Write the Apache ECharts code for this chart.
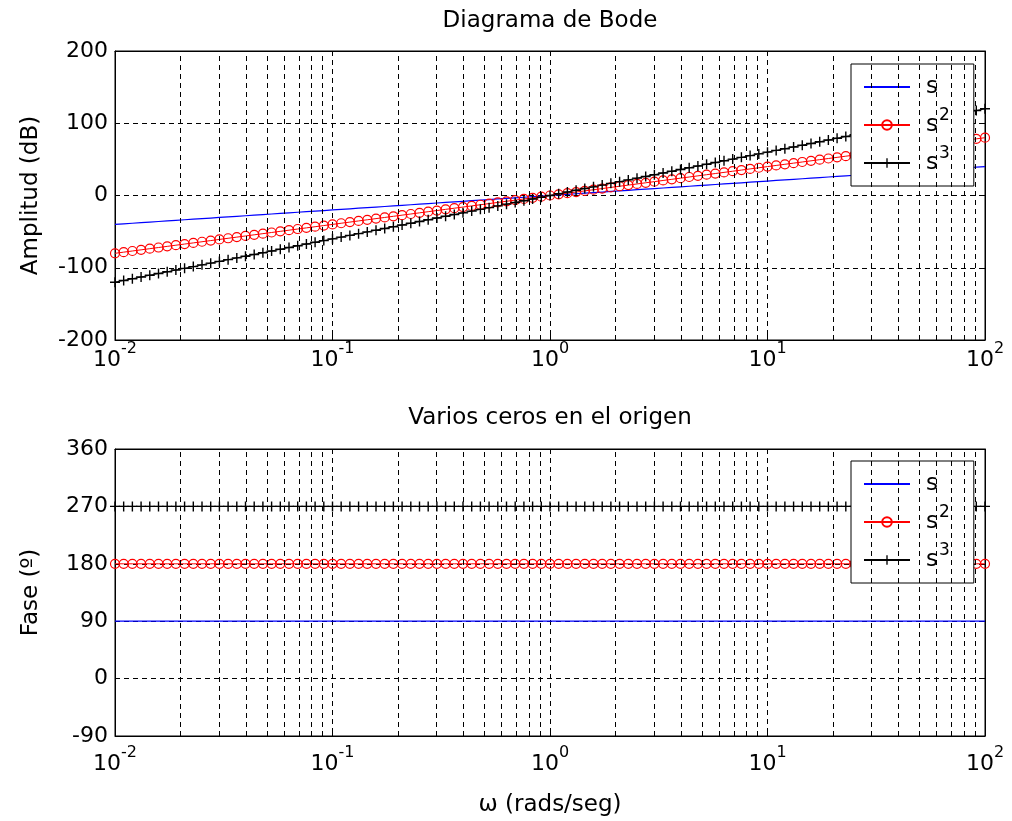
<!DOCTYPE html>
<html>
<head>
<meta charset="utf-8">
<title>Diagrama de Bode</title>
<script src="https://cdn.jsdelivr.net/npm/echarts@6/dist/echarts.min.js"></script>
<style>
  html, body { margin: 0; padding: 0; background: #fff; }
  #chart { width: 1012px; height: 821px; }
</style>
</head>
<body>
<div id="chart"></div>
<script>
// Frequency samples (rad/s), logarithmically spaced from 1e-2 to 1e2
const omega = [
  0.01, 0.01096, 0.01202, 0.01318, 0.01445, 0.01585, 0.01738, 0.01905, 0.02089, 0.02291,
  0.02512, 0.02754, 0.03020, 0.03311, 0.03631, 0.03981, 0.04365, 0.04786, 0.05248, 0.05754,
  0.06310, 0.06918, 0.07586, 0.08318, 0.09120,
  0.1, 0.1096, 0.1202, 0.1318, 0.1445, 0.1585, 0.1738, 0.1905, 0.2089, 0.2291,
  0.2512, 0.2754, 0.3020, 0.3311, 0.3631, 0.3981, 0.4365, 0.4786, 0.5248, 0.5754,
  0.6310, 0.6918, 0.7586, 0.8318, 0.9120,
  1, 1.096, 1.202, 1.318, 1.445, 1.585, 1.738, 1.905, 2.089, 2.291,
  2.512, 2.754, 3.020, 3.311, 3.631, 3.981, 4.365, 4.786, 5.248, 5.754,
  6.310, 6.918, 7.586, 8.318, 9.120,
  10, 10.96, 12.02, 13.18, 14.45, 15.85, 17.38, 19.05, 20.89, 22.91,
  25.12, 27.54, 30.20, 33.11, 36.31, 39.81, 43.65, 47.86, 52.48, 57.54,
  63.10, 69.18, 75.86, 83.18, 91.20,
  100
];

// Magnitude (dB) for s, s^2, s^3
const ampS = [
  -40, -39.2, -38.4, -37.6, -36.8, -36, -35.2, -34.4, -33.6, -32.8,
  -32, -31.2, -30.4, -29.6, -28.8, -28, -27.2, -26.4, -25.6, -24.8,
  -24, -23.2, -22.4, -21.6, -20.8, -20, -19.2, -18.4, -17.6, -16.8,
  -16, -15.2, -14.4, -13.6, -12.8, -12, -11.2, -10.4, -9.6, -8.8,
  -8, -7.2, -6.4, -5.6, -4.8, -4, -3.2, -2.4, -1.6, -0.8,
  0, 0.8, 1.6, 2.4, 3.2, 4, 4.8, 5.6, 6.4, 7.2,
  8, 8.8, 9.6, 10.4, 11.2, 12, 12.8, 13.6, 14.4, 15.2,
  16, 16.8, 17.6, 18.4, 19.2, 20, 20.8, 21.6, 22.4, 23.2,
  24, 24.8, 25.6, 26.4, 27.2, 28, 28.8, 29.6, 30.4, 31.2,
  32, 32.8, 33.6, 34.4, 35.2, 36, 36.8, 37.6, 38.4, 39.2,
  40
];
const ampS2 = [
  -80, -78.4, -76.8, -75.2, -73.6, -72, -70.4, -68.8, -67.2, -65.6,
  -64, -62.4, -60.8, -59.2, -57.6, -56, -54.4, -52.8, -51.2, -49.6,
  -48, -46.4, -44.8, -43.2, -41.6, -40, -38.4, -36.8, -35.2, -33.6,
  -32, -30.4, -28.8, -27.2, -25.6, -24, -22.4, -20.8, -19.2, -17.6,
  -16, -14.4, -12.8, -11.2, -9.6, -8, -6.4, -4.8, -3.2, -1.6,
  0, 1.6, 3.2, 4.8, 6.4, 8, 9.6, 11.2, 12.8, 14.4,
  16, 17.6, 19.2, 20.8, 22.4, 24, 25.6, 27.2, 28.8, 30.4,
  32, 33.6, 35.2, 36.8, 38.4, 40, 41.6, 43.2, 44.8, 46.4,
  48, 49.6, 51.2, 52.8, 54.4, 56, 57.6, 59.2, 60.8, 62.4,
  64, 65.6, 67.2, 68.8, 70.4, 72, 73.6, 75.2, 76.8, 78.4,
  80
];
const ampS3 = [
  -120, -117.6, -115.2, -112.8, -110.4, -108, -105.6, -103.2, -100.8, -98.4,
  -96, -93.6, -91.2, -88.8, -86.4, -84, -81.6, -79.2, -76.8, -74.4,
  -72, -69.6, -67.2, -64.8, -62.4, -60, -57.6, -55.2, -52.8, -50.4,
  -48, -45.6, -43.2, -40.8, -38.4, -36, -33.6, -31.2, -28.8, -26.4,
  -24, -21.6, -19.2, -16.8, -14.4, -12, -9.6, -7.2, -4.8, -2.4,
  0, 2.4, 4.8, 7.2, 9.6, 12, 14.4, 16.8, 19.2, 21.6,
  24, 26.4, 28.8, 31.2, 33.6, 36, 38.4, 40.8, 43.2, 45.6,
  48, 50.4, 52.8, 55.2, 57.6, 60, 62.4, 64.8, 67.2, 69.6,
  72, 74.4, 76.8, 79.2, 81.6, 84, 86.4, 88.8, 91.2, 93.6,
  96, 98.4, 100.8, 103.2, 105.6, 108, 110.4, 112.8, 115.2, 117.6,
  120
];

// Phase (degrees) for s, s^2, s^3
const phaseS = [
  90, 90, 90, 90, 90, 90, 90, 90, 90, 90, 90, 90, 90, 90, 90, 90, 90, 90, 90, 90,
  90, 90, 90, 90, 90, 90, 90, 90, 90, 90, 90, 90, 90, 90, 90, 90, 90, 90, 90, 90,
  90, 90, 90, 90, 90, 90, 90, 90, 90, 90, 90, 90, 90, 90, 90, 90, 90, 90, 90, 90,
  90, 90, 90, 90, 90, 90, 90, 90, 90, 90, 90, 90, 90, 90, 90, 90, 90, 90, 90, 90,
  90, 90, 90, 90, 90, 90, 90, 90, 90, 90, 90, 90, 90, 90, 90, 90, 90, 90, 90, 90,
  90
];
const phaseS2 = [
  180, 180, 180, 180, 180, 180, 180, 180, 180, 180, 180, 180, 180, 180, 180, 180, 180, 180, 180, 180,
  180, 180, 180, 180, 180, 180, 180, 180, 180, 180, 180, 180, 180, 180, 180, 180, 180, 180, 180, 180,
  180, 180, 180, 180, 180, 180, 180, 180, 180, 180, 180, 180, 180, 180, 180, 180, 180, 180, 180, 180,
  180, 180, 180, 180, 180, 180, 180, 180, 180, 180, 180, 180, 180, 180, 180, 180, 180, 180, 180, 180,
  180, 180, 180, 180, 180, 180, 180, 180, 180, 180, 180, 180, 180, 180, 180, 180, 180, 180, 180, 180,
  180
];
const phaseS3 = [
  270, 270, 270, 270, 270, 270, 270, 270, 270, 270, 270, 270, 270, 270, 270, 270, 270, 270, 270, 270,
  270, 270, 270, 270, 270, 270, 270, 270, 270, 270, 270, 270, 270, 270, 270, 270, 270, 270, 270, 270,
  270, 270, 270, 270, 270, 270, 270, 270, 270, 270, 270, 270, 270, 270, 270, 270, 270, 270, 270, 270,
  270, 270, 270, 270, 270, 270, 270, 270, 270, 270, 270, 270, 270, 270, 270, 270, 270, 270, 270, 270,
  270, 270, 270, 270, 270, 270, 270, 270, 270, 270, 270, 270, 270, 270, 270, 270, 270, 270, 270, 270,
  270
];

// Intermediate (2..9 x 10^k) grid positions on the frequency axis
const minorGrid = [
  0.02, 0.03, 0.04, 0.05, 0.06, 0.07, 0.08, 0.09,
  0.2, 0.3, 0.4, 0.5, 0.6, 0.7, 0.8, 0.9,
  2, 3, 4, 5, 6, 7, 8, 9,
  20, 30, 40, 50, 60, 70, 80, 90
];

const seriesNames = ['s', 's2', 's3'];
const legendText = { 's': '{b|s}{e| }', 's2': '{b|s}{e|2}', 's3': '{b|s}{e|3}' };

const FONT = 'DejaVu Sans, sans-serif';
const TICK_SIZE = 22;
const TEXT_SIZE = 23;
const SUP_SIZE = 16;
const dash = [5, 4];
const plusPath = 'path://M4.3,0H5.7V4.3H10V5.7H5.7V10H4.3V5.7H0V4.3H4.3Z';
// marker for the plain line: two specks at opposite corners, so nothing visible is drawn
const hiddenMark = 'path://M0,0L0.01,0L0,0.01Z M10,10L9.99,10L10,9.99Z';

const grids = [
  { left: 115, top: 51, width: 870, height: 289 },
  { left: 115, top: 449, width: 870, height: 287 }
];

function pairs(y) { return omega.map((w, i) => [w, y[i]]); }

function xAxes(gi, withName, labelMargin) {
  return [
    {
      type: 'log', logBase: 10, min: 0.01, max: 100, gridIndex: gi,
      position: 'bottom',
      axisLine: { onZero: false, lineStyle: { color: '#000', width: 1 } },
      axisTick: { inside: true, length: 5, lineStyle: { color: '#000' } },
      splitLine: { show: true, lineStyle: { color: '#000', type: dash, width: 1 } },
      axisLabel: {
        margin: labelMargin,
        color: '#000', fontFamily: FONT, fontSize: TICK_SIZE,
        formatter: v => '{b|10}{e|' + Math.round(Math.log10(v)) + '}',
        rich: {
          b: { fontFamily: FONT, fontSize: TICK_SIZE, color: '#000', lineHeight: 36, verticalAlign: 'middle' },
          e: { fontFamily: FONT, fontSize: SUP_SIZE, color: '#000', lineHeight: 16, padding: [0, 0, 22, 0], verticalAlign: 'middle' }
        }
      },
      name: withName ? 'ω (rads/seg)' : '',
      nameLocation: 'middle', nameGap: 58,
      nameTextStyle: { color: '#000', fontFamily: FONT, fontSize: TEXT_SIZE }
    },
    {
      type: 'log', logBase: 10, min: 0.01, max: 100, gridIndex: gi,
      position: 'top',
      axisLine: { onZero: false, lineStyle: { color: '#000', width: 1 } },
      axisTick: { inside: true, length: 5, lineStyle: { color: '#000' } },
      axisLabel: { show: false },
      splitLine: { show: false }
    }
  ];
}

function yAxes(gi, min, max, step, name) {
  return [
    {
      type: 'value', min: min, max: max, interval: step, gridIndex: gi,
      position: 'left',
      axisLine: { show: true, onZero: false, lineStyle: { color: '#000', width: 1 } },
      axisTick: { show: true, inside: true, length: 5, lineStyle: { color: '#000' } },
      splitLine: { show: true, lineStyle: { color: '#000', type: dash, width: 1 } },
      axisLabel: { color: '#000', fontFamily: FONT, fontSize: TICK_SIZE, margin: 7 },
      name: name, nameLocation: 'middle', nameGap: 72, nameRotate: 90,
      nameTextStyle: { color: '#000', fontFamily: FONT, fontSize: TEXT_SIZE }
    },
    {
      type: 'value', min: min, max: max, interval: step, gridIndex: gi,
      position: 'right',
      axisLine: { show: true, onZero: false, lineStyle: { color: '#000', width: 1 } },
      axisTick: { show: true, inside: true, length: 5, lineStyle: { color: '#000' } },
      splitLine: { show: false },
      axisLabel: { show: false }
    }
  ];
}

function minorGridSeries(xi, yi) {
  return {
    type: 'line', xAxisIndex: xi, yAxisIndex: yi, data: [], silent: true, z: 1,
    markLine: {
      silent: true, symbol: 'none', animation: false,
      label: { show: false },
      lineStyle: { color: '#000', type: dash, width: 1 },
      data: minorGrid.map(v => ({ xAxis: v }))
    }
  };
}

function curveSeries(xi, yi, ys) {
  return [
    {
      name: seriesNames[0], type: 'line', xAxisIndex: xi, yAxisIndex: yi, z: 3,
      data: pairs(ys[0]), symbol: hiddenMark, showSymbol: false,
      lineStyle: { color: '#0000ff', width: 1.2 },
      itemStyle: { color: '#0000ff', borderWidth: 0 }
    },
    {
      name: seriesNames[1], type: 'line', xAxisIndex: xi, yAxisIndex: yi, z: 3,
      data: pairs(ys[1]), symbol: 'circle', symbolSize: 9, showAllSymbol: true,
      lineStyle: { color: '#ff0000', width: 1 },
      itemStyle: { color: 'rgba(255,255,255,0)', borderColor: '#ff0000', borderWidth: 1.2 }
    },
    {
      name: seriesNames[2], type: 'line', xAxisIndex: xi, yAxisIndex: yi, z: 3,
      data: pairs(ys[2]), symbol: plusPath, symbolSize: 10, showAllSymbol: true,
      lineStyle: { color: '#000000', width: 1 },
      itemStyle: { color: '#000000' }
    }
  ];
}

function legendAt(top) {
  return {
    orient: 'vertical', left: 851, top: top,
    data: seriesNames,
    itemWidth: 46, itemHeight: 12, itemGap: 2,
    padding: [5, 24, 5, 12],
    backgroundColor: '#fff', borderColor: '#000', borderWidth: 1, borderRadius: 0,
    selectedMode: false,
    formatter: n => legendText[n],
    textStyle: {
      color: '#000', fontFamily: FONT, fontSize: TEXT_SIZE,
      rich: {
        b: { fontFamily: FONT, fontSize: TEXT_SIZE, color: '#000', lineHeight: 36, padding: [0, 0, 0, 11], verticalAlign: 'middle' },
        e: { fontFamily: FONT, fontSize: 17, color: '#000', lineHeight: 17, padding: [0, 0, 19, 1], verticalAlign: 'middle' }
      }
    }
  };
}

const chart = echarts.init(document.getElementById('chart'), null, { renderer: 'canvas' });
chart.setOption({
  animation: false,
  backgroundColor: '#fff',
  textStyle: { fontFamily: FONT },
  graphic: [
    { type: 'text', x: 550, y: 21, silent: true,
      style: { text: 'Diagrama de Bode', font: TEXT_SIZE + 'px ' + FONT, fill: '#000', align: 'center', verticalAlign: 'middle' } },
    { type: 'text', x: 550, y: 418, silent: true,
      style: { text: 'Varios ceros en el origen', font: TEXT_SIZE + 'px ' + FONT, fill: '#000', align: 'center', verticalAlign: 'middle' } }
  ],
  grid: grids.map(g => Object.assign({ show: true, borderColor: '#000', borderWidth: 1, backgroundColor: '#fff', containLabel: false }, g)),
  xAxis: xAxes(0, false, 2).concat(xAxes(1, true, 10)),
  yAxis: yAxes(0, -200, 200, 100, 'Amplitud (dB)').concat(yAxes(1, -90, 360, 90, 'Fase (º)')),
  legend: [legendAt(64), legendAt(461)],
  series: [
    minorGridSeries(0, 0),
    ...curveSeries(0, 0, [ampS, ampS2, ampS3]),
    minorGridSeries(2, 2),
    ...curveSeries(2, 2, [phaseS, phaseS2, phaseS3])
  ]
});
</script>
</body>
</html>
